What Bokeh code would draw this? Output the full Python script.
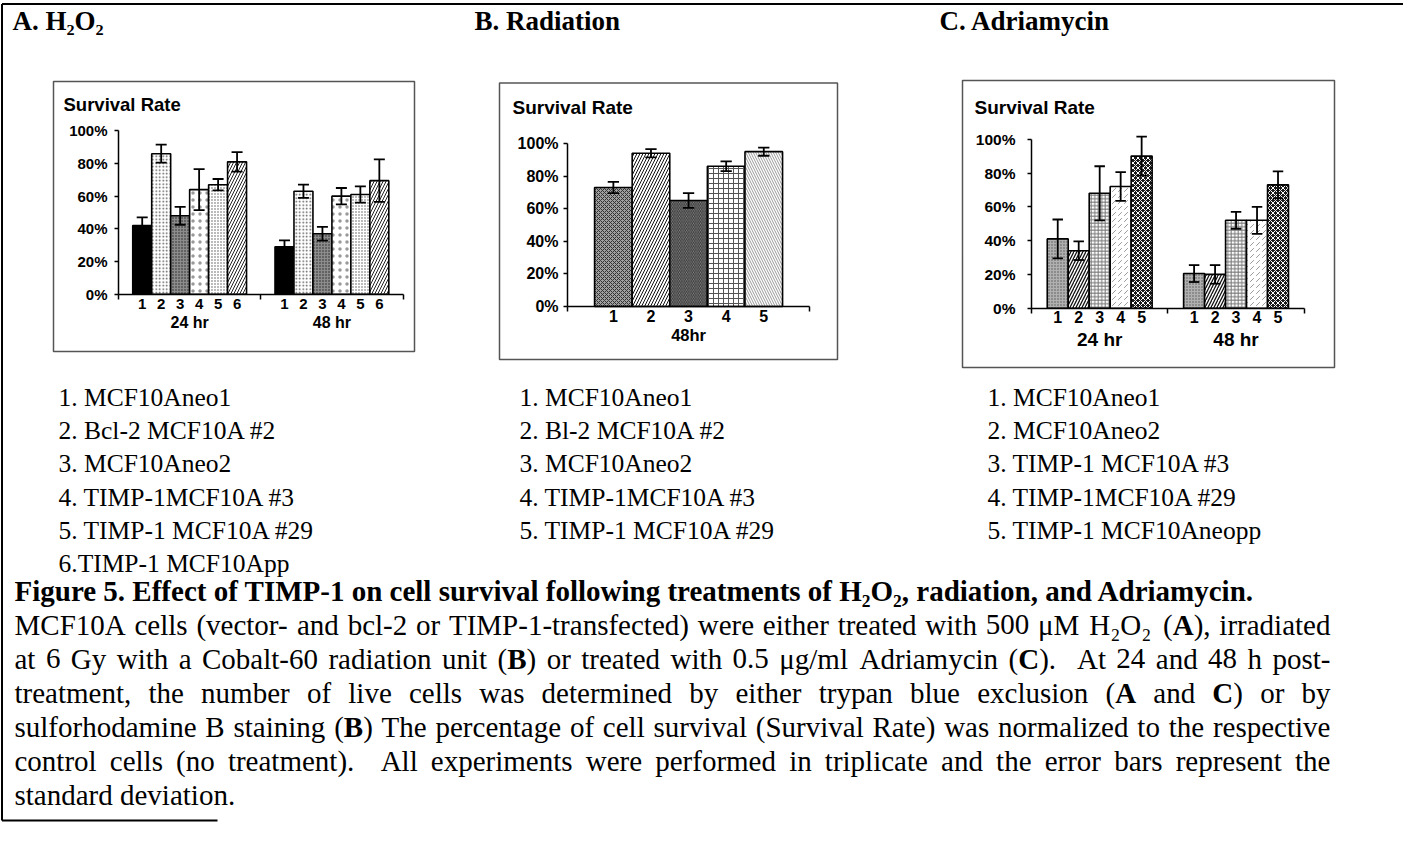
from bokeh.plotting import figure
from bokeh.models import (Range1d, LinearAxis, FixedTicker, PrintfTickFormatter,
                          CustomJSTickFormatter, ColumnDataSource)
from bokeh.core.properties import value
from bokeh.embed import file_html
from bokeh.resources import INLINE

# ---------------- data ----------------
a_title = "A. H₂O₂"
b_title = "B. Radiation"
c_title = "C. Adriamycin"
chart_title = "Survival Rate"

a_groups = ["24 hr", "48 hr"]
a_bars = ["1", "2", "3", "4", "5", "6"]
a_24 = [42, 86, 48, 64, 67, 81]
a_24_sd = [5, 5.5, 5.5, 12.5, 3.5, 6]
a_48 = [29, 63, 37, 60, 61, 69.5]
a_48_sd = [4, 4, 4.2, 5, 5, 13]

b_groups = ["48hr"]
b_bars = ["1", "2", "3", "4", "5"]
b_48 = [73, 94, 65, 86, 95]
b_48_sd = [3.5, 2.5, 4.5, 3, 2.5]

c_groups = ["24 hr", "48 hr"]
c_bars = ["1", "2", "3", "4", "5"]
c_24 = [41, 34, 68, 72, 90]
c_24_sd = [11.5, 5.5, 16, 8.5, 11.5]
c_48 = [20.5, 20, 52, 52, 73]
c_48_sd = [5, 5.5, 5, 8, 8]

y_ticks = [0, 20, 40, 60, 80, 100]

a_legend = ["1. MCF10Aneo1", "2. Bcl-2 MCF10A #2", "3. MCF10Aneo2",
            "4. TIMP-1MCF10A #3", "5. TIMP-1 MCF10A #29", "6.TIMP-1 MCF10App"]
b_legend = ["1. MCF10Aneo1", "2. Bl-2 MCF10A #2", "3. MCF10Aneo2",
            "4. TIMP-1MCF10A #3", "5. TIMP-1 MCF10A #29"]
c_legend = ["1. MCF10Aneo1", "2. MCF10Aneo2", "3. TIMP-1 MCF10A #3",
            "4.  TIMP-1MCF10A #29", "5. TIMP-1 MCF10Aneopp"]

# caption: (runs of (text, bold)), justified?
caption = [
    ([("Figure 5.  Effect of TIMP-1 on cell survival following treatments of H₂O₂, radiation, and Adriamycin.", True)], False),
    ([("MCF10A cells (vector- and bcl-2 or TIMP-1-transfected) were either treated with 500 μM H₂O₂ (", False), ("A", True), ("), irradiated", False)], True),
    ([("at 6 Gy with a Cobalt-60 radiation unit (", False), ("B", True), (") or treated with 0.5 μg/ml Adriamycin (", False), ("C", True), (").  At 24 and 48 h post-", False)], True),
    ([("treatment, the number of live cells was determined by either trypan blue exclusion (", False), ("A", True), (" and ", False), ("C", True), (") or by", False)], True),
    ([("sulforhodamine B staining (", False), ("B", True), (") The percentage of cell survival (Survival Rate) was normalized to the respective", False)], True),
    ([("control cells (no treatment).  All experiments were performed in triplicate and the error bars represent the", False)], True),
    ([("standard deviation.", False)], False),
]

# ---------------- styles ----------------
a_style = dict(fc=["black", "white", "#8c8c8c", "white", "white", "white"],
               hp=[" ", "dot", "dot", "dot", "dot", "right_diagonal_line"],
               hc=["black", "#555555", "#222222", "#999999", "#555555", "#222222"],
               hs=[6, 3.5, 3, 7, 3, 6], hw=[1, 1, 1, 0.4, 1, 1])
b_style = dict(fc=["#a0a0a0", "white", "#909090", "white", "white"],
               hp=["diagonal_cross", "right_diagonal_line", "left_diagonal_line", "cross", "left_diagonal_line"],
               hc=["#333333", "#111111", "#333333", "#555555", "#999999"],
               hs=[4, 6, 3.5, 5, 5], hw=[1, 1, 1, 1, 1])
c_style = dict(fc=["#b0b0b0", "white", "white", "white", "#1a1a1a"],
               hp=["dot", "right_diagonal_line", "cross", "right_diagonal_dash", "diagonal_cross"],
               hc=["#555555", "#111111", "#777777", "#999999", "white"],
               hs=[3, 6, 3.5, 6, 5], hw=[1, 1.3, 1, 1, 1])

a_geo = dict(ax=126, y0=301.7, y100=138.3, unit=18.97, off=0.75, box=(61, 89, 422, 359),
             tx=71, ty=112, tsize=18.5, ysize=15, ystand=7, nsize=15, nstand=5,
             gsize=16, gstand=20, cap=0.29)
b_geo = dict(ax=575, y0=314, y100=151, unit=37.6, off=0.72, box=(507, 90.5, 845, 367),
             tx=520, ty=115, tsize=19, ysize=16, ystand=5, nsize=16, nstand=3,
             gsize=16.5, gstand=19, cap=0.15)
c_geo = dict(ax=1039, y0=315.7, y100=146.7, unit=20.98, off=0.75, box=(970, 88, 1342, 375),
             tx=982, ty=115, tsize=19, ysize=15.5, ystand=12, nsize=16, nstand=3,
             gsize=19, gstand=21, cap=0.25)

W, H = 1403, 825
X0, Y0 = 8, 8
SERIF = "Liberation Serif"
SANS = "Liberation Sans"

p = figure(width=W, height=H, x_range=Range1d(X0, X0 + W), y_range=Range1d(Y0 + H, Y0),
           min_border=0, x_axis_location=None, y_axis_location=None,
           toolbar_location=None, output_backend="svg", outline_line_color=None,
           background_fill_color="white", border_fill_color="white")
p.grid.visible = False

# text batching
texts = {}


def add_text(x, y, s, font, size, bold=False, align="left"):
    key = (font, size, bold, align)
    d = texts.setdefault(key, dict(x=[], y=[], text=[]))
    d["x"].append(x)
    d["y"].append(y)
    d["text"].append(s)


def flush_texts():
    for (font, size, bold, align), d in texts.items():
        p.text(x="x", y="y", text="text", source=ColumnDataSource(d),
               text_font=value(font), text_font_size=value(f"{size}px"),
               text_font_style=value("bold" if bold else "normal"),
               text_align=value(align), text_baseline=value("middle"),
               text_color="black")


# ---------------- frame lines ----------------
p.segment(x0=[9.5, 9.5, 9.5], y0=[11.5, 11.5, 828], x1=[1411, 9.5, 225], y1=[11.5, 828, 828],
          line_color="black", line_width=2)

# ---------------- titles ----------------
add_text(20, 28, a_title, SERIF, 27, True)
add_text(482, 28, b_title, SERIF, 27, True)
add_text(947, 28, c_title, SERIF, 27, True)


def add_chart(key, groups, vals, sds, bar_labels, st, g):
    nb = len(bar_labels)
    cat = nb + 2 * g["off"]
    total = cat * len(groups)
    xr, yr = "x" + key, "y" + key
    k = (g["y0"] - g["y100"]) / 100.0
    p.extra_x_ranges[xr] = Range1d((X0 - g["ax"]) / g["unit"], (X0 + W - g["ax"]) / g["unit"])
    p.extra_y_ranges[yr] = Range1d((g["y0"] - (Y0 + H)) / k, (g["y0"] - Y0) / k)

    # box
    l, t, r, b = g["box"]
    p.quad(left=[l], right=[r], top=[t], bottom=[b], fill_color=None,
           line_color="#555555", line_width=1.5)
    add_text(g["tx"], g["ty"], chart_title, SANS, g["tsize"], True)

    d = dict(x=[], top=[], lo=[], hi=[], cl=[], cr=[], fc=[], hp=[], hc=[], hs=[], hw=[])
    centers, labels = [], []
    for gi, (vl, sl) in enumerate(zip(vals, sds)):
        for i, (v, s) in enumerate(zip(vl, sl)):
            x = gi * cat + g["off"] + i + 0.5
            d["x"].append(x)
            d["top"].append(v)
            d["lo"].append(v - s)
            d["hi"].append(v + s)
            d["cl"].append(x - g["cap"])
            d["cr"].append(x + g["cap"])
            for kk in ("fc", "hp", "hc", "hs", "hw"):
                d[kk].append(st[kk][i])
            centers.append(x)
            labels.append(bar_labels[i])
    src = ColumnDataSource(d)
    p.vbar(x="x", top="top", bottom=0, width=1.0, source=src, x_range_name=xr, y_range_name=yr,
           fill_color="fc", hatch_pattern="hp", hatch_color="hc", hatch_scale="hs",
           hatch_weight="hw", line_color="black", line_width=1.6)
    p.segment(x0="x", y0="lo", x1="x", y1="hi", source=src, x_range_name=xr, y_range_name=yr,
              line_color="black", line_width=1.8)
    p.segment(x0="cl", y0="hi", x1="cr", y1="hi", source=src, x_range_name=xr, y_range_name=yr,
              line_color="black", line_width=1.8)
    p.segment(x0="cl", y0="lo", x1="cr", y1="lo", source=src, x_range_name=xr, y_range_name=yr,
              line_color="black", line_width=1.8)

    # y axis
    yax = LinearAxis(y_range_name=yr, fixed_location=g["ax"], bounds=(0, 100),
                     ticker=FixedTicker(ticks=y_ticks, minor_ticks=[]),
                     formatter=PrintfTickFormatter(format="%d%%"),
                     major_tick_out=4, major_tick_in=0, minor_tick_out=0, minor_tick_in=0,
                     axis_line_width=1.5, major_tick_line_width=1.5,
                     major_label_standoff=int(g["ystand"]),
                     major_label_text_font=SANS, major_label_text_font_style="bold",
                     major_label_text_font_size=f"{g['ysize']}px", major_label_text_color="black")
    p.add_layout(yax, "left")

    # x axis line with category-boundary ticks
    xline = LinearAxis(x_range_name=xr, fixed_location=g["y0"], bounds=(0, total),
                       ticker=FixedTicker(ticks=[cat * j for j in range(len(groups) + 1)], minor_ticks=[]),
                       major_tick_out=5, major_tick_in=0, minor_tick_out=0, minor_tick_in=0,
                       axis_line_width=1.5, major_tick_line_width=1.5,
                       major_label_text_color=None, major_label_text_font_size="1px")
    p.add_layout(xline, "below")

    # bar number labels
    xnum = LinearAxis(x_range_name=xr, fixed_location=g["y0"], bounds=(0, total),
                      ticker=FixedTicker(ticks=centers, minor_ticks=[]),
                      formatter=CustomJSTickFormatter(args=dict(labels=labels),
                                                      code="return labels[index] ?? '';"),
                      major_tick_line_color=None, minor_tick_line_color=None,
                      axis_line_color=None, major_tick_out=0, major_tick_in=0,
                      major_label_standoff=int(g["nstand"]),
                      major_label_text_font=SANS, major_label_text_font_style="bold",
                      major_label_text_font_size=f"{g['nsize']}px", major_label_text_color="black")
    p.add_layout(xnum, "below")

    # group labels
    gcent = [cat * (j + 0.5) for j in range(len(groups))]
    xgrp = LinearAxis(x_range_name=xr, fixed_location=g["y0"], bounds=(0, total),
                      ticker=FixedTicker(ticks=gcent, minor_ticks=[]),
                      formatter=CustomJSTickFormatter(args=dict(labels=groups),
                                                      code="return labels[index] ?? '';"),
                      major_tick_line_color=None, minor_tick_line_color=None,
                      axis_line_color=None, major_tick_out=0, major_tick_in=0,
                      major_label_standoff=int(g["gstand"]),
                      major_label_text_font=SANS, major_label_text_font_style="bold",
                      major_label_text_font_size=f"{g['gsize']}px", major_label_text_color="black")
    p.add_layout(xgrp, "below")


add_chart("A", a_groups, [a_24, a_48], [a_24_sd, a_48_sd], a_bars, a_style, a_geo)
add_chart("B", b_groups, [b_48], [b_48_sd], b_bars, b_style, b_geo)
add_chart("C", c_groups, [c_24, c_48], [c_24_sd, c_48_sd], c_bars, c_style, c_geo)

# ---------------- legends ----------------
LEG_SIZE = 25.5
LEG_Y0, LEG_DY = 405, 33.2
for xleft, items in ((66, a_legend), (527, b_legend), (995, c_legend)):
    for i, s in enumerate(items):
        add_text(xleft, LEG_Y0 + i * LEG_DY, s, SERIF, LEG_SIZE)

# ---------------- caption ----------------
REG = {}
for chars, w in ((" ", 250), ("!()-", 333), (",.", 250), ("/:", 278), ("0123456789#", 500),
                 ("%", 833), ("AHNOUVXYDGKQ", 722), ("BCR", 667), ("EL", 611), ("FPS", 556),
                 ("IJ", 333), ("M", 889), ("W", 944), ("T", 611), ("Z", 611),
                 ("acez", 444), ("bdghknopquvxy", 500), ("ijl", 278),
                 ("m", 778), ("s", 389), ("w", 722), ("μ", 576), ("₂", 400)):
    for ch in chars:
        REG[ch] = w
REG["f"], REG["r"], REG["t"] = 333, 333, 278
BOLD = {}
for chars, w in ((" ,.", 250), ("()-", 333), ("0123456789", 500), ("ACR", 722), ("B", 667),
                 ("E", 667), ("FP", 611), ("HO", 778), ("I", 389), ("M", 944), ("T", 667),
                 ("agovy", 500), ("bdhnu", 556), ("ce", 444), ("ft", 333), ("il", 278),
                 ("s", 389), ("w", 722), ("₂", 400)):
    for ch in chars:
        BOLD[ch] = w
BOLD["m"] = 833
BOLD["r"] = 444


def twidth(s, bold, size):
    tab = BOLD if bold else REG
    return sum(tab.get(ch, 500) for ch in s) / 1000.0 * size


CAP_SIZE = 29
CAP_L, CAP_R = 22, 1338
CAP_Y0, CAP_DY = 598, 34
for li, (runs, just) in enumerate(caption):
    y = CAP_Y0 + li * CAP_DY
    if not just:
        x = CAP_L
        for t, b in runs:
            add_text(x, y, t, SERIF, CAP_SIZE, b)
            x += twidth(t, b, CAP_SIZE)
        continue
    words, gaps, cur, sp = [], [], [], 0
    for t, b in runs:
        for ch in t:
            if ch == " ":
                if cur:
                    words.append(cur)
                    cur = []
                sp += 1
            else:
                if not cur:
                    if words:
                        gaps.append(sp)
                    sp = 0
                if cur and cur[-1][1] == b:
                    cur[-1] = (cur[-1][0] + ch, b)
                else:
                    cur.append((ch, b))
    if cur:
        words.append(cur)
    widths = [sum(twidth(t, b, CAP_SIZE) for t, b in w) for w in words]
    space = 0.25 * CAP_SIZE
    nat = sum(widths) + sum(gaps) * space
    extra = (CAP_R - CAP_L - nat) / sum(gaps) if gaps else 0
    x = CAP_L
    for i, w in enumerate(words):
        if i > 0:
            x += gaps[i - 1] * (space + extra)
        px = x
        for t, b in w:
            add_text(px, y, t, SERIF, CAP_SIZE, b)
            px += twidth(t, b, CAP_SIZE)
        x += widths[i]

flush_texts()

open("out.html", "w").write(file_html(p, INLINE))
